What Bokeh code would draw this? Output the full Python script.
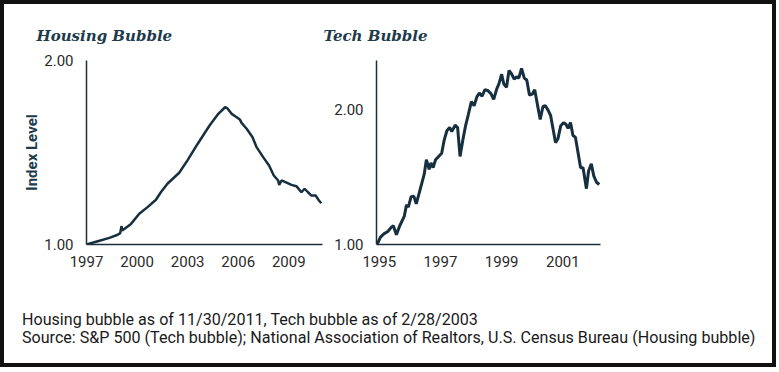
from bokeh.plotting import figure
from bokeh.models import FixedTicker, Title, Div, NumeralTickFormatter, Range1d
from bokeh.layouts import row, column
from bokeh.embed import file_html
from bokeh.resources import INLINE

# ---------------- data ----------------
housing_years = [1997.0, 1997.67, 1998.36, 1998.85, 1999.0, 1999.08, 1999.12, 1999.64,
                 2000.13, 2000.62, 2001.12, 2001.41, 2001.80, 2002.50, 2002.99, 2003.58,
                 2004.30, 2004.82, 2005.22, 2005.35, 2005.61, 2005.91, 2006.10, 2006.20,
                 2006.50, 2006.85, 2007.09, 2007.48, 2007.83, 2008.11, 2008.37, 2008.43,
                 2008.57, 2008.90, 2009.16, 2009.45, 2009.75, 2009.94, 2010.14, 2010.34,
                 2010.59, 2010.79, 2010.93]
housing_index = [1.000, 1.018, 1.036, 1.053, 1.062, 1.100, 1.076, 1.112,
                 1.167, 1.203, 1.243, 1.284, 1.330, 1.390, 1.457, 1.545,
                 1.647, 1.710, 1.746, 1.741, 1.710, 1.692, 1.679, 1.661,
                 1.629, 1.583, 1.529, 1.475, 1.429, 1.375, 1.348, 1.324,
                 1.348, 1.335, 1.324, 1.317, 1.284, 1.303, 1.284, 1.266,
                 1.266, 1.239, 1.224]

tech_years = [1994.93, 1995.04, 1995.15, 1995.28, 1995.39, 1995.46, 1995.56, 1995.67,
              1995.77, 1995.82, 1995.89, 1995.95, 1996.04, 1996.13, 1996.21, 1996.30,
              1996.40, 1996.47, 1996.54, 1996.63, 1996.69, 1996.76, 1996.84, 1996.94,
              1997.04, 1997.12, 1997.21, 1997.30, 1997.37, 1997.48, 1997.56, 1997.64,
              1997.73, 1997.82, 1997.91, 1998.01, 1998.10, 1998.19, 1998.27, 1998.36,
              1998.45, 1998.54, 1998.65, 1998.74, 1998.84, 1998.91, 1999.00, 1999.07,
              1999.16, 1999.24, 1999.33, 1999.41, 1999.49, 1999.56, 1999.65, 1999.74,
              1999.82, 1999.91, 2000.00, 2000.08, 2000.17, 2000.26, 2000.35, 2000.43,
              2000.52, 2000.60, 2000.68, 2000.76, 2000.84, 2000.93, 2001.02, 2001.10,
              2001.17, 2001.25, 2001.33, 2001.41, 2001.49, 2001.58, 2001.66, 2001.77,
              2001.84, 2001.93, 2002.01, 2002.10, 2002.19]
tech_index = [1.000, 1.055, 1.079, 1.096, 1.127, 1.139, 1.072, 1.139,
              1.187, 1.211, 1.294, 1.278, 1.354, 1.359, 1.301, 1.378,
              1.462, 1.522, 1.629, 1.557, 1.605, 1.570, 1.629, 1.653,
              1.677, 1.773, 1.844, 1.868, 1.837, 1.885, 1.868, 1.653,
              1.773, 1.880, 1.964, 2.060, 2.029, 2.095, 2.124, 2.100,
              2.148, 2.143, 2.119, 2.076, 2.155, 2.191, 2.263, 2.191,
              2.167, 2.291, 2.263, 2.227, 2.244, 2.234, 2.306, 2.234,
              2.220, 2.108, 2.115, 2.148, 2.036, 1.928, 2.024, 2.029,
              1.995, 1.957, 1.857, 1.756, 1.785, 1.880, 1.904, 1.892,
              1.861, 1.904, 1.808, 1.796, 1.689, 1.570, 1.570, 1.414,
              1.545, 1.598, 1.509, 1.462, 1.445]

housing_xticks = [1997, 2000, 2003, 2006, 2009]
tech_xticks = [1995, 1997, 1999, 2001]
y_ticks = [1.0, 2.0]

housing_title = "Housing Bubble"
tech_title = "Tech Bubble"
y_label = "Index Level"
note_lines = ["Housing bubble as of 11/30/2011, Tech bubble as of 2/28/2003",
              "Source: S&P 500 (Tech bubble); National Association of Realtors, U.S. Census Bureau (Housing bubble)"]

# ---------------- styling ----------------
LINE = "#17303f"
AXIS = "#1c2e3a"
TITLE_C = "#1d3b4b"
TICK_FONT = "Roboto"


def style(p, xticks):
    p.grid.grid_line_color = None
    p.outline_line_color = None
    p.background_fill_color = None
    p.border_fill_color = None
    for ax in (p.xaxis[0], p.yaxis[0]):
        ax.axis_line_color = AXIS
        ax.axis_line_width = 1.5
        ax.major_tick_line_color = None
        ax.minor_tick_line_color = None
        ax.major_tick_in = 0
        ax.major_tick_out = 0
        ax.major_label_text_font = TICK_FONT
        ax.major_label_text_font_size = "15px"
        ax.major_label_text_color = "#2a2a2a"
    p.xaxis.ticker = FixedTicker(ticks=xticks)
    p.yaxis.ticker = FixedTicker(ticks=y_ticks)
    p.yaxis.formatter = NumeralTickFormatter(format="0.00")
    p.xaxis.major_label_standoff = 11
    p.yaxis.major_label_standoff = 13


def add_title(p, text, offset):
    t = Title(text=text, align="left", offset=offset,
              text_font="DejaVu Serif", text_font_style="bold italic",
              text_font_size="15px", text_color=TITLE_C, standoff=31)
    p.add_layout(t, "above")


# Housing chart
p1 = figure(width=319, height=287, output_backend="svg", toolbar_location=None,
            x_range=Range1d(1997.0, 2011.0), y_range=Range1d(1.0, 2.0),
            min_border_left=82, min_border_right=1, min_border_top=56, min_border_bottom=47)
style(p1, housing_xticks)
p1.line(housing_years, housing_index, line_color=LINE, line_width=2.5)
p1.yaxis.axis_label = y_label
p1.yaxis.axis_label_text_font = "Roboto"
p1.yaxis.axis_label_text_font_style = "bold"
p1.yaxis.axis_label_text_font_size = "15px"
p1.yaxis.axis_label_text_color = TITLE_C
p1.yaxis.axis_label_standoff = 0
add_title(p1, housing_title, -50)

# Tech chart
p2 = figure(width=296, height=287, output_backend="svg", toolbar_location=None,
            x_range=Range1d(1994.91, 2002.23), y_range=Range1d(1.0, 2.365),
            min_border_left=53, min_border_right=19, min_border_top=48, min_border_bottom=47)
style(p2, tech_xticks)
p2.line(tech_years, tech_index, line_color=LINE, line_width=3)
add_title(p2, tech_title, -53)

note_html = ('<div style="padding:20px 0 0 18px; line-height:18px; font-family:Roboto; '
             'font-size:16.1px; color:#1a1a1a; white-space:nowrap;">'
             + "<br>".join(note_lines).replace("&", "&amp;") + "</div>")
footer = Div(text=note_html, width=768, height=72, margin=0)

layout = column(row(p1, p2), footer, styles={"border": "4px solid #111"})

open("out.html", "w").write(file_html(layout, INLINE))
